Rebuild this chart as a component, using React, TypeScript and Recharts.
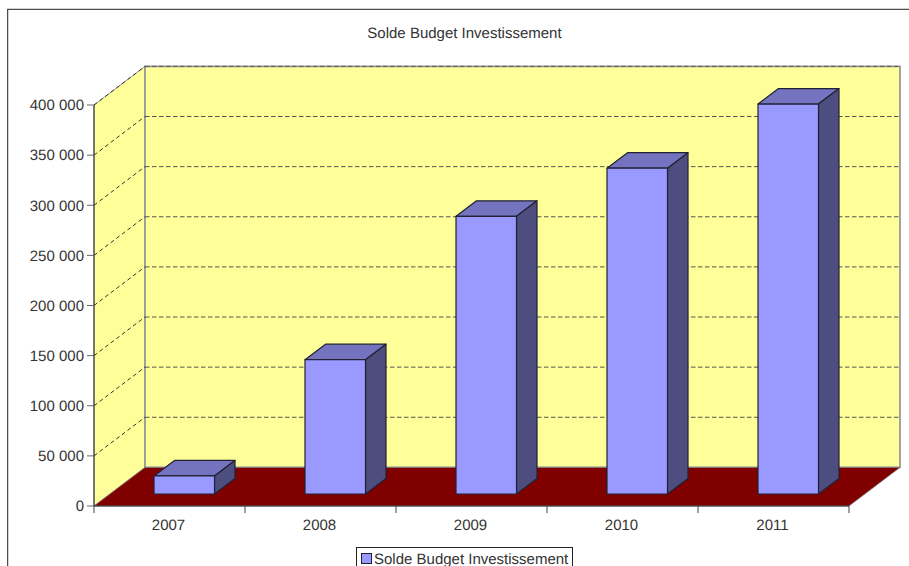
import React from 'react';
import { BarChart, Bar, XAxis, YAxis, Legend, ReferenceArea, ReferenceLine } from 'recharts';

const years = ['2007', '2008', '2009', '2010', '2011'];
const solde = [18000, 134000, 277000, 325000, 389000];
const yTicks = [0, 50000, 100000, 150000, 200000, 250000, 300000, 350000, 400000];
const gridTicks = [50000, 100000, 150000, 200000, 250000, 300000, 350000, 400000];

const SERIES = 'Solde Budget Investissement';
const FONT = 'Arial, "Liberation Sans", sans-serif';
const FONT_SIZE = 15;
const TEXT = '#333333';
const EDGE = '#222233';

// pseudo 3d offsets
const WALL_DX = 51;
const WALL_DY = 38.6;
const BAR_DX = 15;
const BAR_DY = 12;
const BOX_DX = 20.5;
const BOX_DY = 15.5;

const data = years.map((year, i) => ({ year, value: solde[i] }));
const fmt = (v: number) => String(v).replace(/\B(?=(\d{3})+$)/g, ' ');

const Walls = ({ x, y, width, height }: any) => {
  const bottom = y + height;
  const right = x + width;
  return (
    <g>
      <polygon
        points={`${x},${y} ${x + WALL_DX},${y - WALL_DY} ${x + WALL_DX},${bottom - WALL_DY} ${x},${bottom}`}
        fill="#ffff99"
        stroke="#999999"
      />
      <rect x={x + WALL_DX} y={y - WALL_DY} width={width} height={height} fill="#ffff99" stroke="#999999" strokeWidth={1.8} />
      <polygon
        points={`${x},${bottom} ${right},${bottom} ${right + WALL_DX},${bottom - WALL_DY} ${x + WALL_DX},${bottom - WALL_DY}`}
        fill="#800000"
        stroke="#808080"
        strokeWidth={0.8}
      />
    </g>
  );
};

const GridRow = ({ x1, y1, x2 }: any) => (
  <g fill="none">
    <line x1={x1} y1={y1} x2={x1 + WALL_DX} y2={y1 - WALL_DY} stroke="#333333" strokeDasharray="4 3" />
    <line x1={x1 + WALL_DX} y1={y1 - WALL_DY} x2={x2 + WALL_DX} y2={y1 - WALL_DY} stroke="#555555" strokeDasharray="4.5 2.5" />
  </g>
);

const Box = ({ x, y, width, height }: any) => {
  const l = x + BAR_DX;
  const t = y - BAR_DY;
  const r = l + width;
  const b = t + height;
  return (
    <g stroke={EDGE} strokeWidth={1.2} strokeLinejoin="round">
      <polygon points={`${l},${t} ${l + BOX_DX},${t - BOX_DY} ${r + BOX_DX},${t - BOX_DY} ${r},${t}`} fill="#7373bf" />
      <polygon points={`${r},${t} ${r + BOX_DX},${t - BOX_DY} ${r + BOX_DX},${b - BOX_DY} ${r},${b}`} fill="#4d4d80" />
      <rect x={l} y={t} width={width} height={height} fill="#9999ff" />
    </g>
  );
};

const YearTick = ({ x, y, width, payload }: any) => {
  const half = width / years.length / 2;
  return (
    <g>
      <line x1={x - half} y1={y} x2={x - half} y2={y + 7} stroke="#444444" />
      {payload.value === years[years.length - 1] && (
        <line x1={x + half} y1={y} x2={x + half} y2={y + 7} stroke="#444444" />
      )}
      <text x={x - 1} y={y + 24} textAnchor="middle" fontFamily={FONT} fontSize={FONT_SIZE} fill={TEXT} textRendering="geometricPrecision">
        {payload.value}
      </text>
    </g>
  );
};

const LegendBox = () => (
  <div
    style={{
      boxSizing: 'border-box',
      width: 217,
      height: 24,
      border: '1px solid #222',
      background: '#fff',
      display: 'flex',
      alignItems: 'flex-start',
      paddingLeft: 4,
      paddingTop: 3,
      fontFamily: FONT,
      fontSize: FONT_SIZE,
      lineHeight: '17px',
      color: TEXT,
      whiteSpace: 'nowrap',
      textRendering: 'geometricPrecision',
    }}
  >
    <span style={{ boxSizing: 'border-box', width: 11, height: 11, marginTop: 2, background: '#9999ff', border: '1px solid #222233', marginRight: 2 }} />
    {SERIES}
  </div>
);

export default function App() {
  return (
    <div style={{ position: 'absolute', left: 0, top: 0, width: 909, height: 566, background: '#fff', overflow: 'hidden' }}>
      <BarChart width={909} height={566} data={data} margin={{ top: 105, right: 60, bottom: 0, left: 0 }} barSize={60.5}>
        <rect x={7.7} y={9.3} width={1000} height={1000} fill="none" stroke="#222222" />
        <text x={464.5} y={38} textAnchor="middle" fontFamily={FONT} fontSize={FONT_SIZE} fill={TEXT} textRendering="geometricPrecision">
          {SERIES}
        </text>
        <ReferenceArea y1={0} y2={400000} ifOverflow="visible" shape={Walls} zIndex={40} />
        {gridTicks.map((t) => (
          <ReferenceLine key={t} y={t} ifOverflow="visible" shape={GridRow} zIndex={50} />
        ))}
        <XAxis
          dataKey="year"
          height={41}
          interval={0}
          tickLine={false}
          tickSize={0}
          tickMargin={0}
          axisLine={{ stroke: '#333333' }}
          tick={YearTick}
        />
        <YAxis
          width={94}
          domain={[0, 400000]}
          ticks={yTicks}
          interval={0}
          tickFormatter={fmt}
          tickSize={7}
          tickMargin={3}
          tickLine={{ stroke: '#666666' }}
          axisLine={{ stroke: '#222222' }}
          tick={{ fill: TEXT, fontSize: FONT_SIZE, fontFamily: FONT, textRendering: 'geometricPrecision' }}
        />
        <Bar dataKey="value" name={SERIES} shape={Box} isAnimationActive={false} />
        <Legend
          content={LegendBox}
          wrapperStyle={{ position: 'absolute', left: 356, top: 547, width: 217, height: 19, bottom: 'auto' }}
        />
      </BarChart>
    </div>
  );
}
